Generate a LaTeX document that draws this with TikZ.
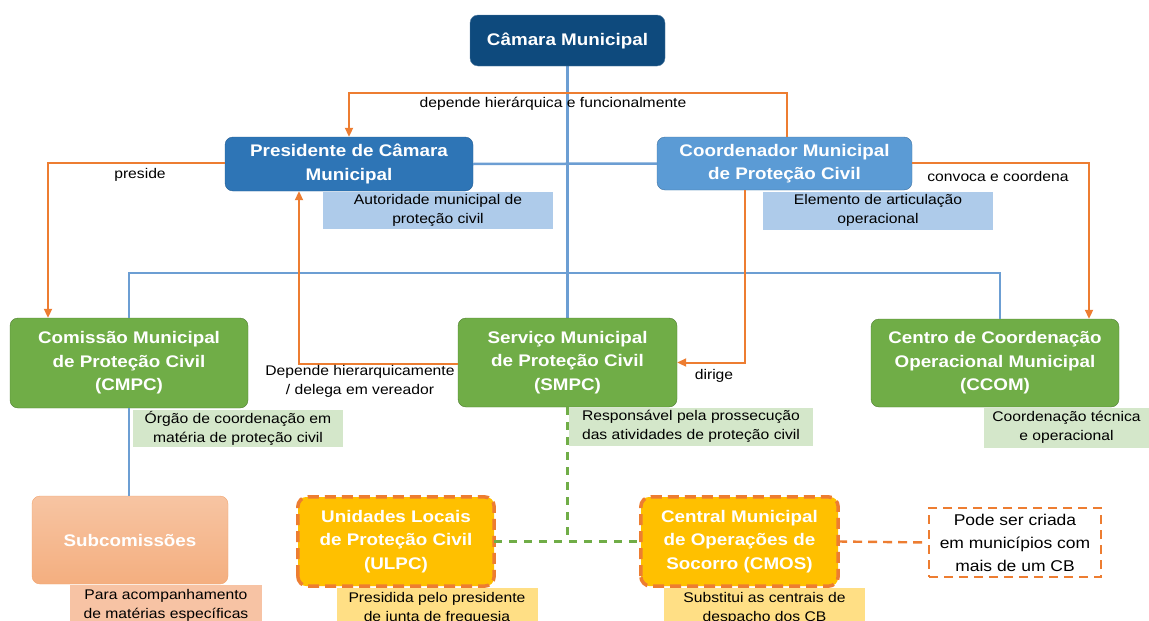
\documentclass[tikz,border=0pt]{standalone}
\usepackage{fontspec}
\setmainfont{Liberation Sans}[FakeStretch=1.12]
\usetikzlibrary{arrows.meta,calc}
\definecolor{navy}{HTML}{0E4A7D}
\definecolor{bluemid}{HTML}{2E75B6}
\definecolor{bluelt}{HTML}{5B9BD5}
\definecolor{notebl}{HTML}{AECBEA}
\definecolor{grn}{HTML}{70AD47}
\definecolor{grnd}{HTML}{507E32}
\definecolor{notegr}{HTML}{D4E7CA}
\definecolor{orng}{HTML}{ED7D31}
\definecolor{yel}{HTML}{FFC000}
\definecolor{noteye}{HTML}{FFDF85}
\definecolor{notesa}{HTML}{F7C3A4}
\definecolor{lineb}{HTML}{6C9ED3}
\tikzset{
  x=1pt,y=-1pt,
  boxs/.style={rounded corners=8pt, align=center, text=white, font=\fontsize{16.8}{23.5}\selectfont\bfseries, inner sep=2pt},
  notes/.style={align=center, font=\fontsize{14}{19}\selectfont, inner sep=1pt},
  lbl/.style={align=center, font=\fontsize{14}{19}\selectfont, inner sep=1pt},
  oline/.style={draw=orng, line width=2pt},
  oarrow/.style={oline, -{Triangle[length=9pt,width=8pt]}},
  bline/.style={draw=lineb, line width=2.5pt},
  gdash/.style={draw=grn, line width=2.5pt, dash pattern=on 8pt off 7pt},
  odash/.style={draw=orng, line width=2.4pt, dash pattern=on 9pt off 6pt},
  obord/.style={draw=orng, line width=3.5pt, dash pattern=on 11pt off 6pt},
}
\begin{document}
\begin{tikzpicture}
\useasboundingbox (0,0) rectangle (1149,621);
\clip (0,0) rectangle (1149,621);
\coordinate (hy) at (0,93);
\coordinate (hb) at (0,273);
% notes
\node[notes, fill=notebl, minimum width=230pt, minimum height=37pt] (n1) at (438,210.5) {Autoridade municipal de\\proteção civil};
\node[notes, fill=notebl, minimum width=230pt, minimum height=38pt] (n2) at (878,210.5) {Elemento de articulação\\operacional};
\node[notes, fill=notegr, minimum width=210pt, minimum height=37pt] (n3) at (238,428) {Órgão de coordenação em\\matéria de proteção civil};
\node[notes, fill=notegr, minimum width=244pt, minimum height=38pt] (n4) at (691,426.5) {Responsável pela prossecução\\das atividades de proteção civil};
\node[notes, fill=notegr, minimum width=165pt, minimum height=40pt] (n5) at (1066.5,427.5) {Coordenação técnica\\e operacional};
\node[notes, fill=notesa, minimum width=192pt, minimum height=40pt, anchor=north] (n6) at (166,585) {Para acompanhamento\\de matérias específicas};
\node[notes, fill=noteye, minimum width=201pt, minimum height=40pt, anchor=north] (n7) at (437,588) {Presidida pelo presidente\\de junta de freguesia};
\node[notes, fill=noteye, minimum width=201pt, minimum height=40pt, anchor=north] (n8) at (764.5,588) {Substitui as centrais de\\despacho dos CB};
% blue connector behind boxes
\coordinate (camS) at (567.5,66);
\coordinate (smpcN) at (567.5,318);
\draw[bline] (camS) -- (smpcN);
% main boxes
\node[boxs, fill=navy, draw=navy!70!white, minimum width=195pt, minimum height=51pt] (cam) at (567.5,40.5) {Câmara Municipal};
\node[boxs, fill=bluemid, draw=bluemid!80!black, minimum width=248pt, minimum height=54pt] (pres) at (349,164) {Presidente de Câmara\\Municipal};
\node[boxs, fill=bluelt, draw=bluelt!75!black, minimum width=255pt, minimum height=53pt] (coord) at (784.5,163.5) {Coordenador Municipal\\de Proteção Civil};
\node[boxs, fill=grn, draw=grnd, minimum width=238pt, minimum height=90pt] (cmpc) at (129,363) {Comissão Municipal\\de Proteção Civil\\(CMPC)};
\node[boxs, fill=grn, draw=grnd, minimum width=219pt, minimum height=89pt] (smpc) at (567.5,362.5) {Serviço Municipal\\de Proteção Civil\\(SMPC)};
\node[boxs, fill=grn, draw=grnd, minimum width=248pt, minimum height=88pt] (ccom) at (995,363) {Centro de Coordenação\\Operacional Municipal\\(CCOM)};
\node[boxs, top color=orng!45!white, bottom color=orng!62!white, draw=orng!70!white, minimum width=196pt, minimum height=88pt] (sub) at (130,540) {Subcomissões};
\node[boxs, fill=yel, minimum width=196pt, minimum height=89pt] (ulpc) at (396,541.5) {Unidades Locais\\de Proteção Civil\\(ULPC)};
\draw[obord, rounded corners=10pt] (ulpc.south west) rectangle (ulpc.north east);
\node[boxs, fill=yel, minimum width=197pt, minimum height=89pt] (cmos) at (739.5,541.5) {Central Municipal\\de Operações de\\Socorro (CMOS)};
\draw[obord, rounded corners=10pt] (cmos.south west) rectangle (cmos.north east);
\node[align=center, font=\fontsize{15.6}{23}\selectfont, inner sep=1pt, draw=orng, line width=2.4pt, dash pattern=on 9pt off 6pt, fill=white, minimum width=172pt, minimum height=69pt] (pode) at (1015,542.5) {Pode ser criada\\em municípios com\\mais de um CB};
% blue connectors
\draw[bline] (pres.east) -- (coord.west);
\draw[bline] (cmpc.north) -- (cmpc.north |- hb) -| ([xshift=5pt]ccom.north);
\draw[bline] (cmpc.south) -- (cmpc.south |- sub.north);
% orange connectors
\draw[oarrow] ([xshift=2.5pt]coord.north) -- ([xshift=2.5pt]coord.north |- hy) -| (pres.north);
\node[lbl] (l1) at (553,104) {depende hierárquica e funcionalmente};
\draw[oarrow] ([yshift=1pt]pres.west) -| ([xshift=-81pt]cmpc.north);
\node[lbl] (l2) at (140,175) {preside};
\draw[oarrow] ([yshift=1pt]coord.east) -| ([xshift=94pt]ccom.north);
\node[lbl] (l3) at (998,176) {convoca e coordena};
\draw[oarrow] ([xshift=-39.5pt]coord.south) |- (smpc.east);
\node[lbl] (l4) at (714,376) {dirige};
\draw[oarrow] ([yshift=-1.5pt]smpc.west) -| ([xshift=-50pt]pres.south);
\node[lbl] (l5) at (360,381) {Depende hierarquicamente\\/ delega em vereador};
% green dashed
\draw[gdash] (smpc.south) -- (smpc.south |- ulpc.east);
\draw[gdash] (ulpc.east) -- (cmos.west);
% orange dashed
\draw[odash] (cmos.east) -- (pode.west);
\end{tikzpicture}
\end{document}
